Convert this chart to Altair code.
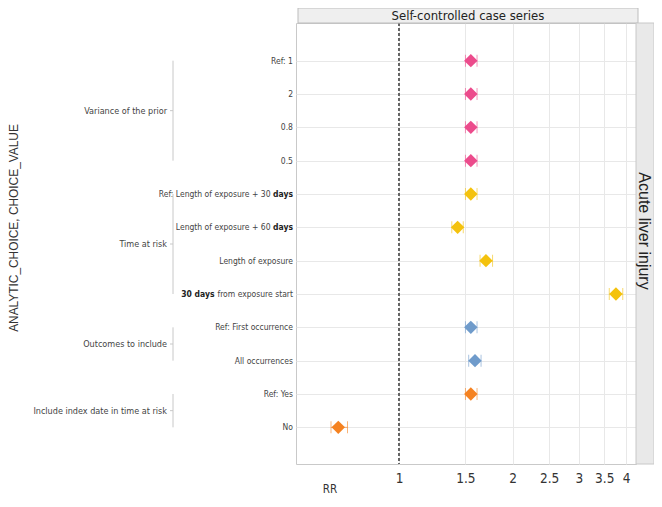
import json
import altair as alt
import pandas as pd

# ---------------- data ----------------
analytic_choice = (["Variance of the prior"] * 4 + ["Time at risk"] * 4 +
                   ["Outcomes to include"] * 2 + ["Include index date in time at risk"] * 2)
choice_value = ["Ref:  1", "2", "0.8", "0.5",
                "Ref:  Length of exposure + 30 days", "Length of exposure + 60 days",
                "Length of exposure", "30 days from exposure start",
                "Ref:  First occurrence", "All occurrences",
                "Ref:  Yes", "No"]
bold_part = ["", "", "", "", "days", "days", "", "30 days", "", "", "", ""]
rr = [1.55, 1.55, 1.55, 1.55, 1.55, 1.43, 1.70, 3.76, 1.55, 1.59, 1.55, 0.69]
ci_low = [1.50, 1.50, 1.50, 1.50, 1.50, 1.38, 1.64, 3.61, 1.50, 1.53, 1.50, 0.66]
ci_high = [1.61, 1.61, 1.61, 1.61, 1.61, 1.48, 1.77, 3.92, 1.61, 1.65, 1.61, 0.73]
group_names = ["Variance of the prior", "Time at risk", "Outcomes to include",
               "Include index date in time at risk"]
group_colors = ["#EC4B8C", "#F4C20D", "#6F9BCB", "#F58220"]
x_ticks = [1, 1.5, 2, 2.5, 3, 3.5, 4]
panel_title = "Self-controlled case series"
strip_title = "Acute liver injury"
y_title = "ANALYTIC_CHOICE, CHOICE_VALUE"
x_title = "RR"

# ---------------- tables ----------------
rows = list(range(1, len(choice_value) + 1))
df = pd.DataFrame(dict(choice=analytic_choice, value=choice_value, row=rows,
                       rr=rr, lo=ci_low, hi=ci_high, bold=bold_part))


def bold_pos(v, b):
    if not b:
        return "none"
    return "end" if v.endswith(b) else "start"


df["bpos"] = [bold_pos(v, b) for v, b in zip(df["value"], df["bold"])]
df["plain"] = [v[:-len(b)].strip() if p == "end" else (v[len(b):].strip() if p == "start" else v)
               for v, b, p in zip(df["value"], df["bold"], df["bpos"])]

g = df.groupby("choice", sort=False)["row"].agg(["min", "max"]).reset_index()
g["mid"] = (g["min"] + g["max"]) / 2
one = pd.DataFrame({"k": [0]})

NARROW = "DejaVu Sans Condensed, Liberation Sans Narrow, sans-serif"
SANS = "Liberation Sans, Arial, sans-serif"
W, H = 340, 441
LAB = 8.5          # row label size
DAYS_W = 22.5      # width of bold " days" at LAB
FROM_W = 78.5      # width of " from exposure start" at LAB

yscale = alt.Scale(domain=[-0.13, 13.10], reverse=True, nice=False, zero=False)
xscale = alt.Scale(type="log", domain=[0.533, 4.25], nice=False)
cscale = alt.Scale(domain=group_names, range=group_colors)

XAX = alt.Axis(values=x_ticks, format="~g", title=None, ticks=False, domain=False,
               labelPadding=7, grid=True, gridColor="#e8e8e8", labelFontSize=13.5,
               labelColor="#333333", labelFont=NARROW, labelFlush=False)
YAX = alt.Axis(values=rows, labels=False, title=None, ticks=False, domain=False,
               grid=True, gridColor="#e8e8e8")


def X(f):
    return alt.X(f, scale=xscale, axis=XAX)


def Y(f):
    return alt.Y(f, scale=yscale, axis=YAX)


COLOR = alt.Color("choice:N", scale=cscale, legend=None)

base = alt.Chart(df)

ref_line = base.mark_rule(strokeDash=[3, 2], color="#666666", strokeWidth=1).encode(
    x=alt.datum(1, scale=xscale, axis=XAX)
)
ci = base.mark_rule(strokeWidth=1, opacity=0.6).encode(
    x=X("lo:Q"), x2="hi:Q", y=Y("row:Q"), color=COLOR)
cap_lo = base.mark_tick(orient="vertical", thickness=1, size=12, opacity=0.6).encode(
    x=X("lo:Q"), y=Y("row:Q"), color=COLOR)
cap_hi = base.mark_tick(orient="vertical", thickness=1, size=12, opacity=0.6).encode(
    x=X("hi:Q"), y=Y("row:Q"), color=COLOR)
points = base.mark_point(shape="diamond", filled=True, size=180, opacity=1).encode(
    x=X("rr:Q"), y=Y("row:Q"), color=COLOR)

# row labels (with bold fragments)
lab_plain = base.transform_filter("datum.bpos != 'end'").mark_text(
    align="right", baseline="middle", fontSize=LAB, color="#444444", font=NARROW).encode(
    x=alt.value(-3), y=Y("row:Q"), text="plain:N")
lab_plain_end = base.transform_filter("datum.bpos == 'end'").mark_text(
    align="right", baseline="middle", fontSize=LAB, color="#444444", font=NARROW).encode(
    x=alt.value(-3 - DAYS_W), y=Y("row:Q"), text="plain:N")
lab_bold_end = base.transform_filter("datum.bpos == 'end'").mark_text(
    align="right", baseline="middle", fontSize=LAB, color="#222222", font=NARROW,
    fontWeight="bold").encode(
    x=alt.value(-3), y=Y("row:Q"), text="bold:N")
lab_bold_start = base.transform_filter("datum.bpos == 'start'").mark_text(
    align="right", baseline="middle", fontSize=LAB, color="#222222", font=NARROW,
    fontWeight="bold").encode(
    x=alt.value(-3 - FROM_W), y=Y("row:Q"), text="bold:N")

gbase = alt.Chart(g)
group_text = gbase.mark_text(align="right", baseline="middle", fontSize=9,
                             color="#444444", font=NARROW).encode(
    x=alt.value(-129), y=Y("mid:Q"), text="choice:N")
bracket = gbase.mark_rule(color="#c8c8c8", strokeWidth=1).encode(
    x=alt.value(-123), y=Y("min:Q"), y2="max:Q")
bracket_tick = gbase.mark_rule(color="#c8c8c8", strokeWidth=1).encode(
    x=alt.value(-126), x2=alt.value(-123), y=Y("mid:Q"))

obase = alt.Chart(one)
header_rect = obase.mark_rect(fill="#efefef", stroke="#bdbdbd", strokeWidth=1).encode(
    x=alt.value(2), x2=alt.value(342), y=alt.value(-15), y2=alt.value(0))
header_text = obase.mark_text(fontSize=13, color="#222222", font=NARROW,
                              baseline="middle").encode(
    x=alt.value(172), y=alt.value(-7), text=alt.value(panel_title))
strip_rect = obase.mark_rect(fill="#e9e9e9", stroke="#c8c8c8", strokeWidth=1).encode(
    x=alt.value(340), x2=alt.value(358), y=alt.value(0), y2=alt.value(H))
strip_text = obase.mark_text(fontSize=16, color="#222222", font=SANS, angle=90,
                             baseline="middle").encode(
    x=alt.value(348), y=alt.value(208), text=alt.value(strip_title))
ytitle = obase.mark_text(fontSize=11.9, color="#333333", font=SANS, angle=270,
                         baseline="middle").encode(
    x=alt.value(-282), y=alt.value(205), text=alt.value(y_title))
xtitle = obase.mark_text(fontSize=11.5, color="#333333", font=NARROW,
                         baseline="middle").encode(
    x=alt.value(34), y=alt.value(467), text=alt.value(x_title))

chart = alt.layer(
    ref_line, ci, cap_lo, cap_hi, points,
    lab_plain, lab_plain_end, lab_bold_end, lab_bold_start,
    bracket, bracket_tick, group_text,
    header_rect, header_text, strip_rect, strip_text, ytitle, xtitle,
).properties(
    width=W, height=H,
    autosize=alt.AutoSizeParams(type="none"),
    padding={"left": 288, "top": 15, "right": 18, "bottom": 31},
    background="white",
).configure_view(stroke="#c9c9c9")

chart.save("out.html", embed_options={"renderer": "svg", "actions": False})
